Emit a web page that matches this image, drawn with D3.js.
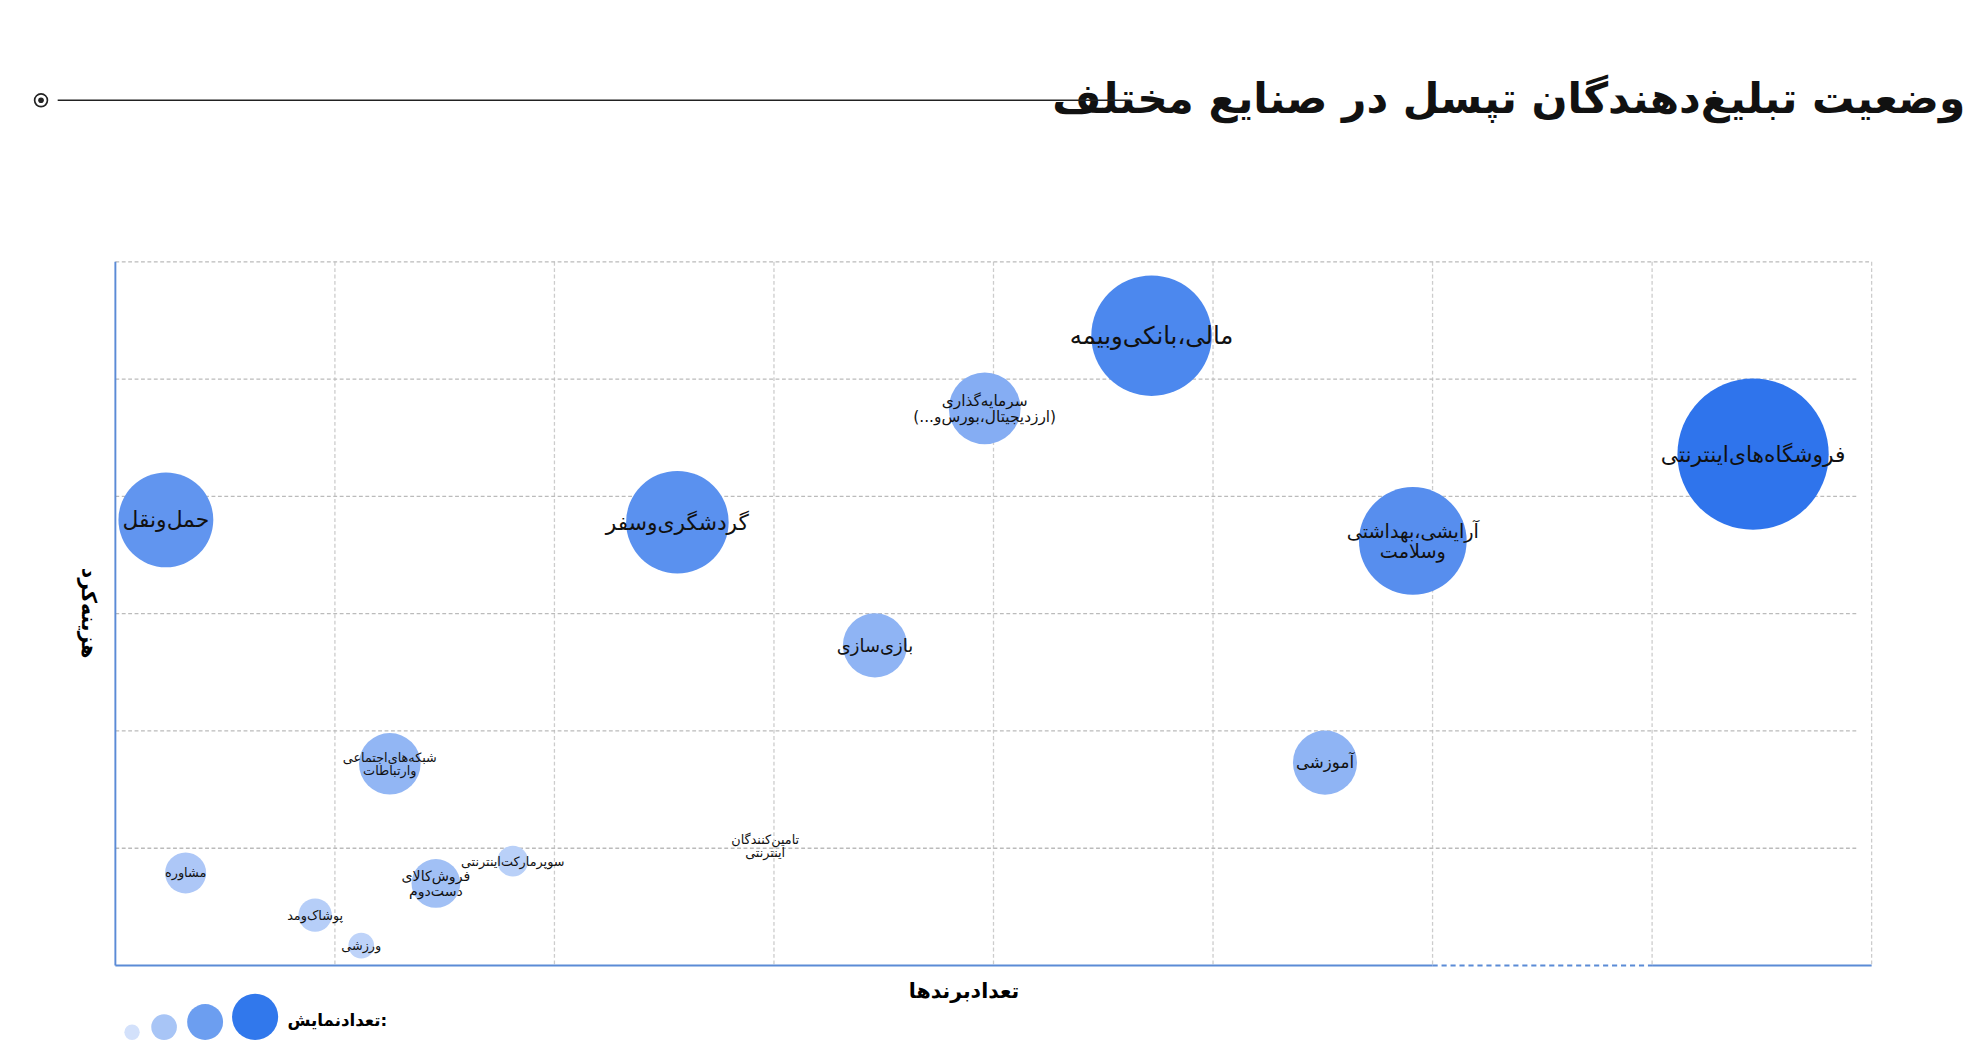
<!DOCTYPE html>
<html><head><meta charset="utf-8">
<script src="https://cdn.jsdelivr.net/npm/d3@7"></script>
<style>body{margin:0;background:#fff}svg{display:block}text{font-family:"DejaVu Sans","Noto Sans",sans-serif}</style>
</head><body>
<script>
const industries=["مالی،بانکی‌وبیمه","سرمایه‌گذاری\n(ارزدیجیتال،بورس‌و...)","فروشگاه‌های‌اینترنتی","حمل‌ونقل","گردشگری‌وسفر","آرایشی،بهداشتی\nوسلامت","بازی‌سازی","آموزشی","شبکه‌های‌اجتماعی\nوارتباطات","مشاوره","سوپرمارکت‌اینترنتی","فروش‌کالای\nدست‌دوم","تامین‌کنندگان\nاینترنتی","پوشاک‌ومد","ورزشی"];
const brandCount=[4.72,3.96,7.46,0.23,2.56,5.91,3.46,5.51,1.25,0.32,1.81,1.46,2.96,0.91,1.12];
const spend=[5.37,4.75,4.36,3.80,3.78,3.62,2.73,1.73,1.72,0.79,0.89,0.70,1.02,0.43,0.17];
const impressions=[2209,784,3481,1369,1600,1764,625,625,576,256,144,361,0,169,100];
const fontSizes=[19,12,17,17,17,15,14,13,10,10,10,11,10,10,10];
const legendValues=[36,100,196,324];
const W=1550,H=821;
const svg=d3.select("body").append("svg").attr("width",1987).attr("height",1053).attr("viewBox",`0 0 ${W} ${H}`);
const x=d3.scaleLinear().domain([0,8]).range([90,1460]);
const y=d3.scaleLinear().domain([0,6]).range([753,204]);
const r=d3.scaleSqrt().domain([0,3481]).range([0,59]);
const col=d3.scaleLinear().domain([0,400,1400,3481]).range(["#c9dafa","#9dbdf5","#5f94ef","#2f74ec"]);
// title
svg.append("text").attr("x",1533).attr("y",88).attr("text-anchor","end").attr("font-size",33).attr("font-weight","bold").attr("fill","#111").text("وضعیت تبلیغ‌دهندگان تپسل در صنایع مختلف");
svg.append("line").attr("x1",45).attr("x2",882).attr("y1",78).attr("y2",78).attr("stroke","#222").attr("stroke-width",1);
svg.append("circle").attr("cx",32).attr("cy",78).attr("r",5).attr("fill","none").attr("stroke","#222").attr("stroke-width",1.3);
svg.append("circle").attr("cx",32).attr("cy",78).attr("r",2.2).attr("fill","#222");
// grid
const g=svg.append("g");
g.selectAll(".vx").data(d3.range(1,9)).join("line").attr("x1",d=>x(d)).attr("x2",d=>x(d)).attr("y1",y(6)).attr("y2",y(0)).attr("stroke","#ccc").attr("stroke-dasharray","3,2");
g.selectAll(".hy").data(d3.range(1,7)).join("line").attr("x1",x(0)).attr("x2",d=>d==6?x(8):1448).attr("y1",d=>y(d)).attr("y2",d=>y(d)).attr("stroke","#bbb").attr("stroke-dasharray","3,2");
g.append("line").attr("x1",x(0)).attr("x2",x(0)).attr("y1",y(6)).attr("y2",y(0)).attr("stroke","#5b8bd6").attr("stroke-width",1.5);
g.append("line").attr("x1",x(0)).attr("x2",x(6)).attr("y1",y(0)).attr("y2",y(0)).attr("stroke","#5b8bd6").attr("stroke-width",1.5);
g.append("line").attr("x1",x(6)).attr("x2",x(7)).attr("y1",y(0)).attr("y2",y(0)).attr("stroke","#5b8bd6").attr("stroke-width",1.5).attr("stroke-dasharray","4,3");
g.append("line").attr("x1",x(7)).attr("x2",x(8)).attr("y1",y(0)).attr("y2",y(0)).attr("stroke","#5b8bd6").attr("stroke-width",1.5);
// bubbles
const data=industries.map((n,i)=>({n,x:brandCount[i],y:spend[i],v:impressions[i],fs:fontSizes[i]}));
svg.selectAll(".b").data(data).join("circle").attr("cx",d=>x(d.x)).attr("cy",d=>y(d.y)).attr("r",d=>r(d.v)).attr("fill",d=>col(d.v));
const lab=svg.selectAll(".l").data(data).join("text").attr("text-anchor","middle").attr("font-size",d=>d.fs).attr("fill","#111").attr("direction","rtl");
lab.each(function(d){const lines=d.n.split("\n");const t=d3.select(this);const lh=d.fs*1.05;
 lines.forEach((s,k)=>t.append("tspan").attr("x",x(d.x)).attr("y",y(d.y)+(k-(lines.length-1)/2)*lh+d.fs*0.35).text(s));});
// axis labels
svg.append("text").attr("x",752).attr("y",778).attr("text-anchor","middle").attr("font-size",16).attr("font-weight","bold").text("تعدادبرندها");
svg.append("text").attr("transform","translate(64,478) rotate(90)").attr("text-anchor","middle").attr("font-size",16).attr("font-weight","bold").text("هزینه‌کرد");
// legend
const lx=[103,128,160,199];
svg.selectAll(".lg").data(legendValues).join("circle").attr("cx",(d,i)=>lx[i]).attr("cy",(d,i)=>811-Math.sqrt(d)).attr("r",d=>Math.sqrt(d)).attr("fill",(d,i)=>["#d3e1fb","#a8c5f6","#6c9ef0","#3178ec"][i]);
svg.append("text").attr("x",302).attr("y",800).attr("text-anchor","end").attr("font-size",13).attr("font-weight","bold").text("تعدادنمایش:");
</script></body></html>
